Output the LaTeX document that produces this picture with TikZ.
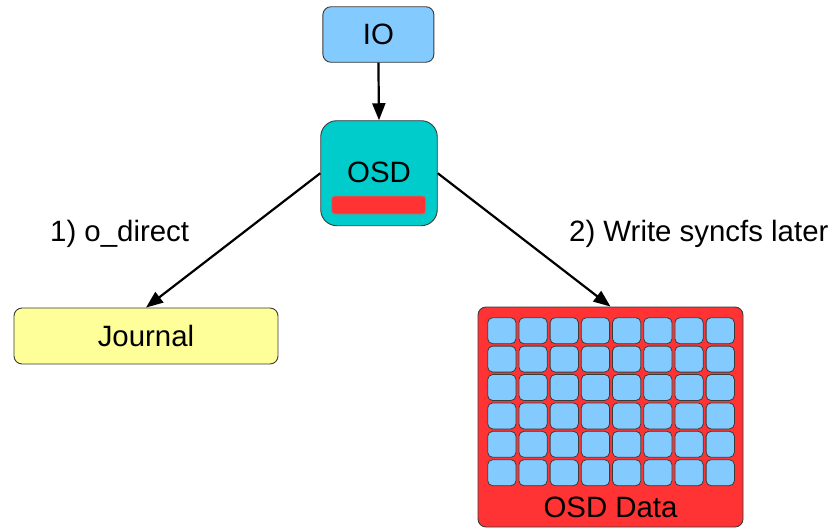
\documentclass[tikz,border=0pt]{standalone}
\usepackage{fontspec}
\setmainfont{Liberation Sans}
\usetikzlibrary{arrows.meta}
\definecolor{ioblue}{HTML}{83CAFF}
\definecolor{osdteal}{HTML}{00CCCC}
\definecolor{diskred}{HTML}{FF3333}
\definecolor{jyellow}{HTML}{FFFF99}
\definecolor{edge}{HTML}{3A3A3A}
\tikzset{
  txt/.style={font=\fontsize{29.4}{35}\selectfont},
  box/.style={draw=edge, line width=0.9pt, inner sep=0pt, txt},
  cell/.style={draw=edge, line width=0.8pt, fill=ioblue, rounded corners=5pt,
               minimum width=28.3pt, minimum height=26pt, inner sep=0pt, anchor=north west},
  flow/.style={line width=2.2pt, -{Triangle[length=17pt,width=13pt]}},
  lbl/.style={inner sep=0pt, anchor=west, txt}
}
\begin{document}
\begin{tikzpicture}[x=1pt,y=-1pt]
\useasboundingbox (0,0) rectangle (832,528);

% top: incoming IO and the OSD daemon
\node[box, fill=ioblue, rounded corners=8pt, minimum width=111pt, minimum height=55.5pt]
  (io) at (378.4,34.5) {IO};
\node[box, fill=osdteal, rounded corners=16pt, minimum width=116.5pt, minimum height=105pt]
  (osd) at (379,173.2) {};
\node[inner sep=0pt, txt] (osdtext) at (379,172) {OSD};
\node[draw=edge!60, line width=0.6pt, fill=diskred, rounded corners=3pt, minimum width=94pt,
  minimum height=18pt, inner sep=0pt] (osdbar) at (378.7,205) {};

% journal device
\node[box, fill=jyellow, rounded corners=8pt, minimum width=264pt, minimum height=56pt]
  (journal) at (146,336) {Journal};

% data store with its block grid
\node[box, fill=diskred, rounded corners=8pt, minimum width=265pt, minimum height=220pt]
  (data) at (610.5,417) {};
\foreach \i in {0,...,7}{
  \foreach \j in {0,...,5}{
    \node[cell] (cell-\i-\j) at ({487.3+31.2*\i},{317.3+28.4*\j}) {};
  }
}
\node[inner sep=0pt, txt] (datatext) at (610.5,507) {OSD Data};

% write path
\draw[flow] (io.south) -- (osd.north);
\draw[flow] (osd.west) -- (journal.north);
\draw[flow] (osd.east) -- (data.north);

\node[lbl] (l1) at (50,234) {1) o\_direct};
\node[lbl] (l2) at (569,234) {2) Write syncfs later};
\end{tikzpicture}
\end{document}
